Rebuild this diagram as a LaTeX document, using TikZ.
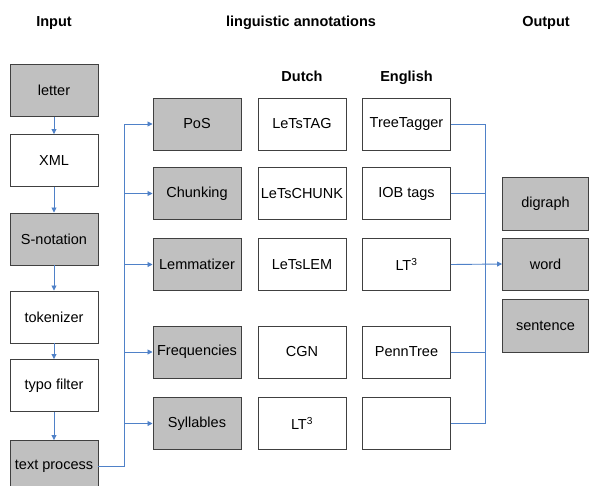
\documentclass[tikz,border=0pt]{standalone}
\usepackage{fontspec}
\setmainfont{Liberation Sans}
\usepackage{xcolor}
\usetikzlibrary{positioning,arrows.meta}

\definecolor{boxgray}{HTML}{C0C0C0}
\definecolor{boxline}{HTML}{404040}
\definecolor{linkblue}{HTML}{4F81C8}

\begin{document}
\begin{tikzpicture}[x=1pt, y=1pt,
font=\fontsize{14.5}{17}\selectfont,
box/.style={rectangle, draw=boxline, fill=white, line width=0.95pt, minimum width=88pt, minimum height=52pt, inner sep=1pt, align=center},
graybox/.style={box, fill=boxgray},
head/.style={anchor=base, font=\fontsize{14.5}{17}\selectfont\bfseries},
link/.style={draw=linkblue, line width=0.9pt},
>={Triangle[length=5pt,width=5pt]}
]
\useasboundingbox (0,0) rectangle (589,-485);

\node[head](h_input) at (54,-26){Input};
\node[head](h_ling) at (301,-26){linguistic annotations};
\node[head](h_output) at (546,-26){Output};
\node[head](h_dutch) at (302,-81){Dutch};
\node[head](h_english) at (406.5,-81){English};

\node[graybox](letter) at (54,-90.5){letter};
\node[box](xml)[below of = letter, node distance=70pt]{XML};
\node[graybox](snot)[below of = xml, node distance=78.5pt]{S-notation};
\node[box](tok)[below of = snot, node distance=78pt]{tokenizer};
\node[box](typo)[below of = tok, node distance=68.5pt]{typo filter};
\node[graybox](txt)[below of = typo, node distance=81pt]{text process};

\node[graybox](pos) at (197,-124){PoS};
\node[graybox](chunk)[below of = pos, node distance=69.5pt]{Chunking};
\node[graybox](lem)[below of = chunk, node distance=71pt]{Lemmatizer};
\node[graybox](freq)[below of = lem, node distance=87.5pt]{Frequencies};
\node[graybox](syl)[below of = freq, node distance=71.5pt]{Syllables};

\node[box](nl_pos)[right of = pos, node distance=105pt]{LeTsTAG};
\node[box](nl_chunk)[right of = chunk, node distance=105pt]{LeTsCHUNK};
\node[box](nl_lem)[right of = lem, node distance=105pt]{LeTsLEM};
\node[box](nl_freq)[right of = freq, node distance=105pt]{CGN};
\node[box](nl_syl)[right of = syl, node distance=105pt]{LT\textsuperscript{3}};

\node[box](en_pos)[right of = nl_pos, node distance=104.5pt]{TreeTagger};
\node[box](en_chunk)[right of = nl_chunk, node distance=104.5pt]{IOB tags};
\node[box](en_lem)[right of = nl_lem, node distance=104.5pt]{LT\textsuperscript{3}};
\node[box](en_freq)[right of = nl_freq, node distance=104.5pt]{PennTree};
\node[box](en_syl)[right of = nl_syl, node distance=104.5pt]{};

\node[graybox, minimum width=86pt, minimum height=53pt](digraph) at (545.5,-204){digraph};
\node[graybox, minimum width=86pt, minimum height=52pt](word) at (545.5,-264){word};
\node[graybox, minimum width=86pt, minimum height=53pt](sentence) at (545.5,-326){sentence};

\coordinate(lbus) at (124,-124);
\coordinate(rbus) at (485,-423.5);

\draw[link, ->] (letter) -- (xml);
\draw[link, ->] (xml) -- (snot);
\draw[link, ->] (snot) -- (tok);
\draw[link, ->] (tok) -- (typo);
\draw[link, ->] (typo) -- (txt);

\draw[link, ->] (txt.east) -| (lbus) -- (pos.west);
\draw[link, ->] (chunk.west -| lbus) -- (chunk.west);
\draw[link, ->] (lem.west -| lbus) -- (lem.west);
\draw[link, ->] (freq.west -| lbus) -- (freq.west);
\draw[link, ->] (syl.west -| lbus) -- (syl.west);

\draw[link] (en_pos.east) -| (rbus) -- (en_syl.east);
\draw[link] (en_chunk.east) -- (en_chunk.east -| rbus);
\draw[link] (en_freq.east) -- (en_freq.east -| rbus);
\draw[link, ->] (en_lem.east) -- (word.west);

\end{tikzpicture}
\end{document}
